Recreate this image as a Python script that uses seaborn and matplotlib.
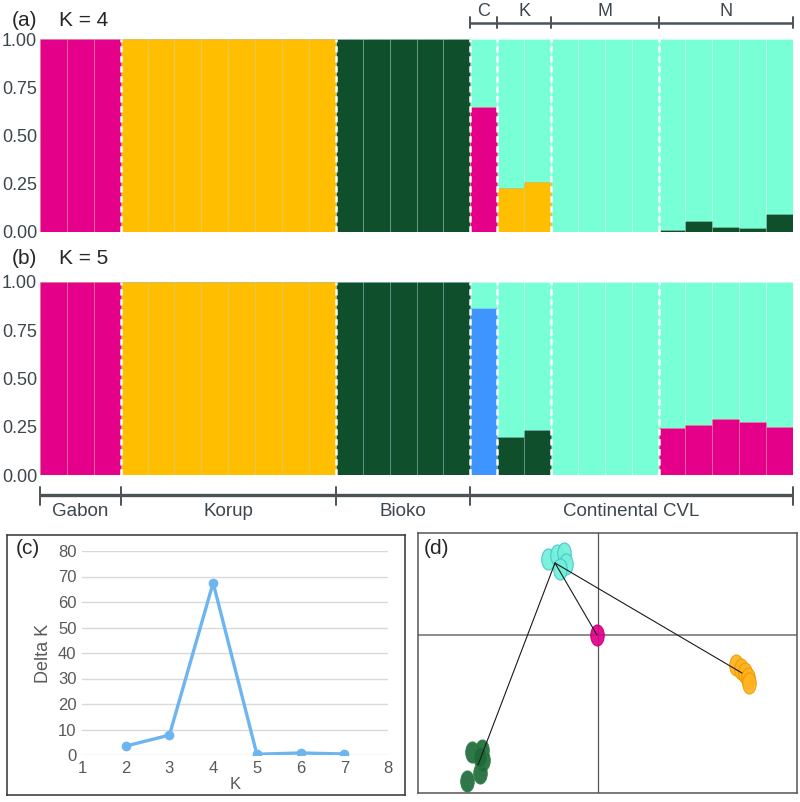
import numpy as np
import pandas as pd
import matplotlib
matplotlib.use("Agg")
import matplotlib.pyplot as plt
import seaborn as sns
from matplotlib.path import Path
from matplotlib.transforms import blended_transform_factory

# ---- cores dos clusters ----
PINK = "#e5008a"
ORANGE = "#ffbe00"
DKGREEN = "#0f4f2b"
AQUA = "#78ffd6"
BLUE = "#3f95ff"

# ---- grupos (28 individuos) ----
group_sizes = [3, 8, 5, 1, 2, 4, 5]          # Gabon, Korup, Bioko, C, K, M, N
regions = ["Gabon", "Korup", "Bioko", "Continental CVL"]
region_sizes = [3, 8, 5, 12]
sub_labels = ["C", "K", "M", "N"]
sub_sizes = [1, 2, 4, 5]

# ---- K = 4 : proporcoes por individuo ----
k4_pink   = [1, 1, 1,  0, 0, 0, 0, 0, 0, 0, 0,  0, 0, 0, 0, 0,  0.65,  0, 0,  0, 0, 0, 0,  0, 0, 0, 0, 0]
k4_orange = [0, 0, 0,  1, 1, 1, 1, 1, 1, 1, 1,  0, 0, 0, 0, 0,  0,  0.23, 0.26,  0, 0, 0, 0,  0, 0, 0, 0, 0]
k4_green  = [0, 0, 0,  0, 0, 0, 0, 0, 0, 0, 0,  1, 1, 1, 1, 1,  0,  0, 0,  0, 0, 0, 0,  0.01, 0.055, 0.025, 0.02, 0.095]
k4_aqua   = [0, 0, 0,  0, 0, 0, 0, 0, 0, 0, 0,  0, 0, 0, 0, 0,  0.35,  0.77, 0.74,  1, 1, 1, 1,  0.99, 0.945, 0.975, 0.98, 0.905]

# ---- K = 5 ----
k5_pink   = [1, 1, 1,  0, 0, 0, 0, 0, 0, 0, 0,  0, 0, 0, 0, 0,  0,  0, 0,  0, 0, 0, 0,  0.245, 0.26, 0.29, 0.275, 0.25]
k5_orange = [0, 0, 0,  1, 1, 1, 1, 1, 1, 1, 1,  0, 0, 0, 0, 0,  0,  0, 0,  0, 0, 0, 0,  0, 0, 0, 0, 0]
k5_green  = [0, 0, 0,  0, 0, 0, 0, 0, 0, 0, 0,  1, 1, 1, 1, 1,  0,  0.195, 0.235,  0, 0, 0, 0,  0, 0, 0, 0, 0]
k5_blue   = [0, 0, 0,  0, 0, 0, 0, 0, 0, 0, 0,  0, 0, 0, 0, 0,  0.865,  0, 0,  0, 0, 0, 0,  0, 0, 0, 0, 0]
k5_aqua   = [0, 0, 0,  0, 0, 0, 0, 0, 0, 0, 0,  0, 0, 0, 0, 0,  0.135,  0.805, 0.765,  1, 1, 1, 1,  0.755, 0.74, 0.71, 0.725, 0.75]

# ---- Delta K (Evanno) ----
k_values = [2, 3, 4, 5, 6, 7]
delta_k = [3.5, 7.8, 67.5, 0.3, 0.8, 0.4]

# ---- DAPC: individuos e centroides ----
aqua_x = [-5.0, -4.1, -3.4, -3.2, -3.8]
aqua_y = [7.6, 8.0, 8.2, 7.1, 6.6]
pink_x = [-0.1]
pink_y = [0.0]
orange_x = [13.8, 14.3, 14.7, 15.0, 15.1]
orange_y = [-3.0, -3.4, -3.8, -4.3, -4.8]
green_x = [-12.6, -11.6, -11.5, -11.8, -13.1, -11.8]
green_y = [-11.7, -11.5, -12.5, -13.8, -14.6, -12.2]
cent_x = [-4.3, -0.1, 14.4, -12.0]   # aqua, pink, orange, green
cent_y = [7.2, 0.0, -3.8, -13.0]

sns.set_style("white")
plt.rcParams["font.family"] = ["Liberation Sans", "DejaVu Sans"]

W, H = 800, 802
fig = plt.figure(figsize=(W / 100, H / 100), dpi=100)


def box(x0, y0, x1, y1):
    return [x0 / W, 1 - y1 / H, (x1 - x0) / W, (y1 - y0) / H]


def fx(px):
    return px / W


def fy(py):
    return 1 - py / H


TXT = "#3b474d"


def structure_plot(ax, layers):
    ind = [f"i{i}" for i in range(28)]
    # empilhamento: desenha a soma acumulada, do topo para a base
    cums = np.cumsum([np.array(v, float) for _, v in layers], axis=0)
    for (col, _), cum in reversed(list(zip(layers, cums))):
        df = pd.DataFrame({"ind": ind, "q": cum})
        df = df[df.q > 1e-9]
        sns.barplot(data=df, x="ind", y="q", order=ind, color=col, saturation=1,
                    width=1, edgecolor=(1, 1, 1, 0.22), linewidth=0.6,
                    errorbar=None, ax=ax)
    bounds = np.cumsum(group_sizes)[:-1] - 0.5
    for b in bounds:
        ax.axvline(b, color="white", lw=1.8, ls=(0, (2.5, 1.5)))
    ax.set_xlim(-0.5, 27.5)
    ax.set_ylim(0, 1)
    ax.set_xticks([])
    ax.set_xlabel("")
    ax.set_ylabel("")
    ax.set_yticks([0, 0.25, 0.5, 0.75, 1.0])
    ax.set_yticklabels(["0.00", "0.25", "0.50", "0.75", "1.00"])
    ax.tick_params(axis="y", length=0, pad=2, labelsize=13, labelcolor=TXT)
    sns.despine(ax=ax, left=True, bottom=True)


def bracket(ax, sizes, labels, start, y_line, y_lo, y_hi, y_txt, lw, fs, tick_lw):
    trans = blended_transform_factory(ax.transData, ax.transAxes)
    edges = start - 0.5 + np.concatenate([[0], np.cumsum(sizes)])
    ax.plot([edges[0], edges[-1]], [y_line, y_line], color="#4b5357", lw=lw,
            transform=trans, clip_on=False, solid_capstyle="butt")
    for e in edges:
        ax.plot([e, e], [y_lo, y_hi], color="#4b5357", lw=tick_lw,
                transform=trans, clip_on=False)
    for lab, a, b in zip(labels, edges[:-1], edges[1:]):
        ax.text((a + b) / 2, y_txt, lab, transform=trans, ha="center", va="center",
                fontsize=fs, color=TXT)


# ---- (a) K = 4 ----
ax_a = fig.add_axes(box(40, 39, 793, 232))
structure_plot(ax_a, [(PINK, k4_pink), (ORANGE, k4_orange), (DKGREEN, k4_green), (AQUA, k4_aqua)])
bracket(ax_a, sub_sizes, sub_labels, 16, 1.083, 1.055, 1.114, 1.145, 1.8, 13, 1.4)
fig.text(fx(12), fy(20), "(a)", fontsize=15, ha="left", va="center")
fig.text(fx(59), fy(20), "K = 4", fontsize=15, ha="left", va="center")

# ---- (b) K = 5 ----
ax_b = fig.add_axes(box(40, 282, 793, 475))
structure_plot(ax_b, [(PINK, k5_pink), (ORANGE, k5_orange), (DKGREEN, k5_green), (BLUE, k5_blue), (AQUA, k5_aqua)])
bracket(ax_b, region_sizes, regions, 0, -0.104, -0.062, -0.155, -0.19, 2.4, 13.5, 1.4)
fig.text(fx(12), fy(259), "(b)", fontsize=15, ha="left", va="center")
fig.text(fx(59), fy(259), "K = 5", fontsize=15, ha="left", va="center")

# ---- (c) Delta K ----
frame_c = fig.add_axes(box(7, 535, 405, 795))
frame_c.set_xticks([])
frame_c.set_yticks([])
for s in frame_c.spines.values():
    s.set_color("#333333")
    s.set_linewidth(1.1)

ax_c = fig.add_axes(box(82, 551, 388, 755))
ax_c.patch.set_alpha(0)
sns.lineplot(x=k_values, y=delta_k, color="#6cb5f0", lw=2.4, marker="o",
             markersize=7, markeredgewidth=0, ax=ax_c)
ax_c.set_xlim(1, 8)
ax_c.set_ylim(0, 80)
ax_c.set_xticks(range(1, 9))
ax_c.set_yticks(range(0, 81, 10))
ax_c.grid(axis="y", color="#d9d9d9", lw=1)
ax_c.grid(axis="x", visible=False)
ax_c.set_axisbelow(True)
sns.despine(ax=ax_c, left=True, bottom=True)
ax_c.tick_params(length=0, labelsize=12, labelcolor="#595959", pad=4)
ax_c.set_xlabel("K", fontsize=12, color="#595959", labelpad=1)
ax_c.set_ylabel("Delta K", fontsize=13, color="#595959", labelpad=4)
fig.text(fx(16), fy(548), "(c)", fontsize=15, ha="left", va="center")

# ---- (d) DAPC ----
ax_d = fig.add_axes(box(418, 533, 797, 793))
ax_d.set_xlim(-18.0, 19.9)
ax_d.set_ylim(-15.8, 10.2)
ax_d.axhline(0, color="#8c8c8c", lw=1.4, zorder=1)
ax_d.axvline(0, color="#555555", lw=0.9, zorder=1)

circ = Path.unit_circle()
ell_marker = Path(circ.vertices * np.array([0.64, 1.0]), circ.codes)

clusters = [
    (aqua_x, aqua_y, "#72f0d8", "#45c4cf"),
    (pink_x, pink_y, "#e0008a", "#c4007a"),
    (orange_x, orange_y, "#ffb31f", "#f09a00"),
    (green_x, green_y, "#1e6a38", "#2f8047"),
]
for xs, ys, fc, ec in clusters:
    sns.scatterplot(x=xs, y=ys, marker=ell_marker, s=230, color=fc,
                    edgecolor=ec, linewidth=0.8, alpha=0.92, zorder=3, ax=ax_d)

for i in range(1, len(cent_x)):
    ax_d.plot([cent_x[0], cent_x[i]], [cent_y[0], cent_y[i]], color="#1a1a1a",
              lw=0.8, zorder=4)

ax_d.set_xticks([])
ax_d.set_yticks([])
for s in ax_d.spines.values():
    s.set_color("#555555")
    s.set_linewidth(1.1)
fig.text(fx(424), fy(548), "(d)", fontsize=15, ha="left", va="center")

fig.savefig("out.png", dpi=100)
